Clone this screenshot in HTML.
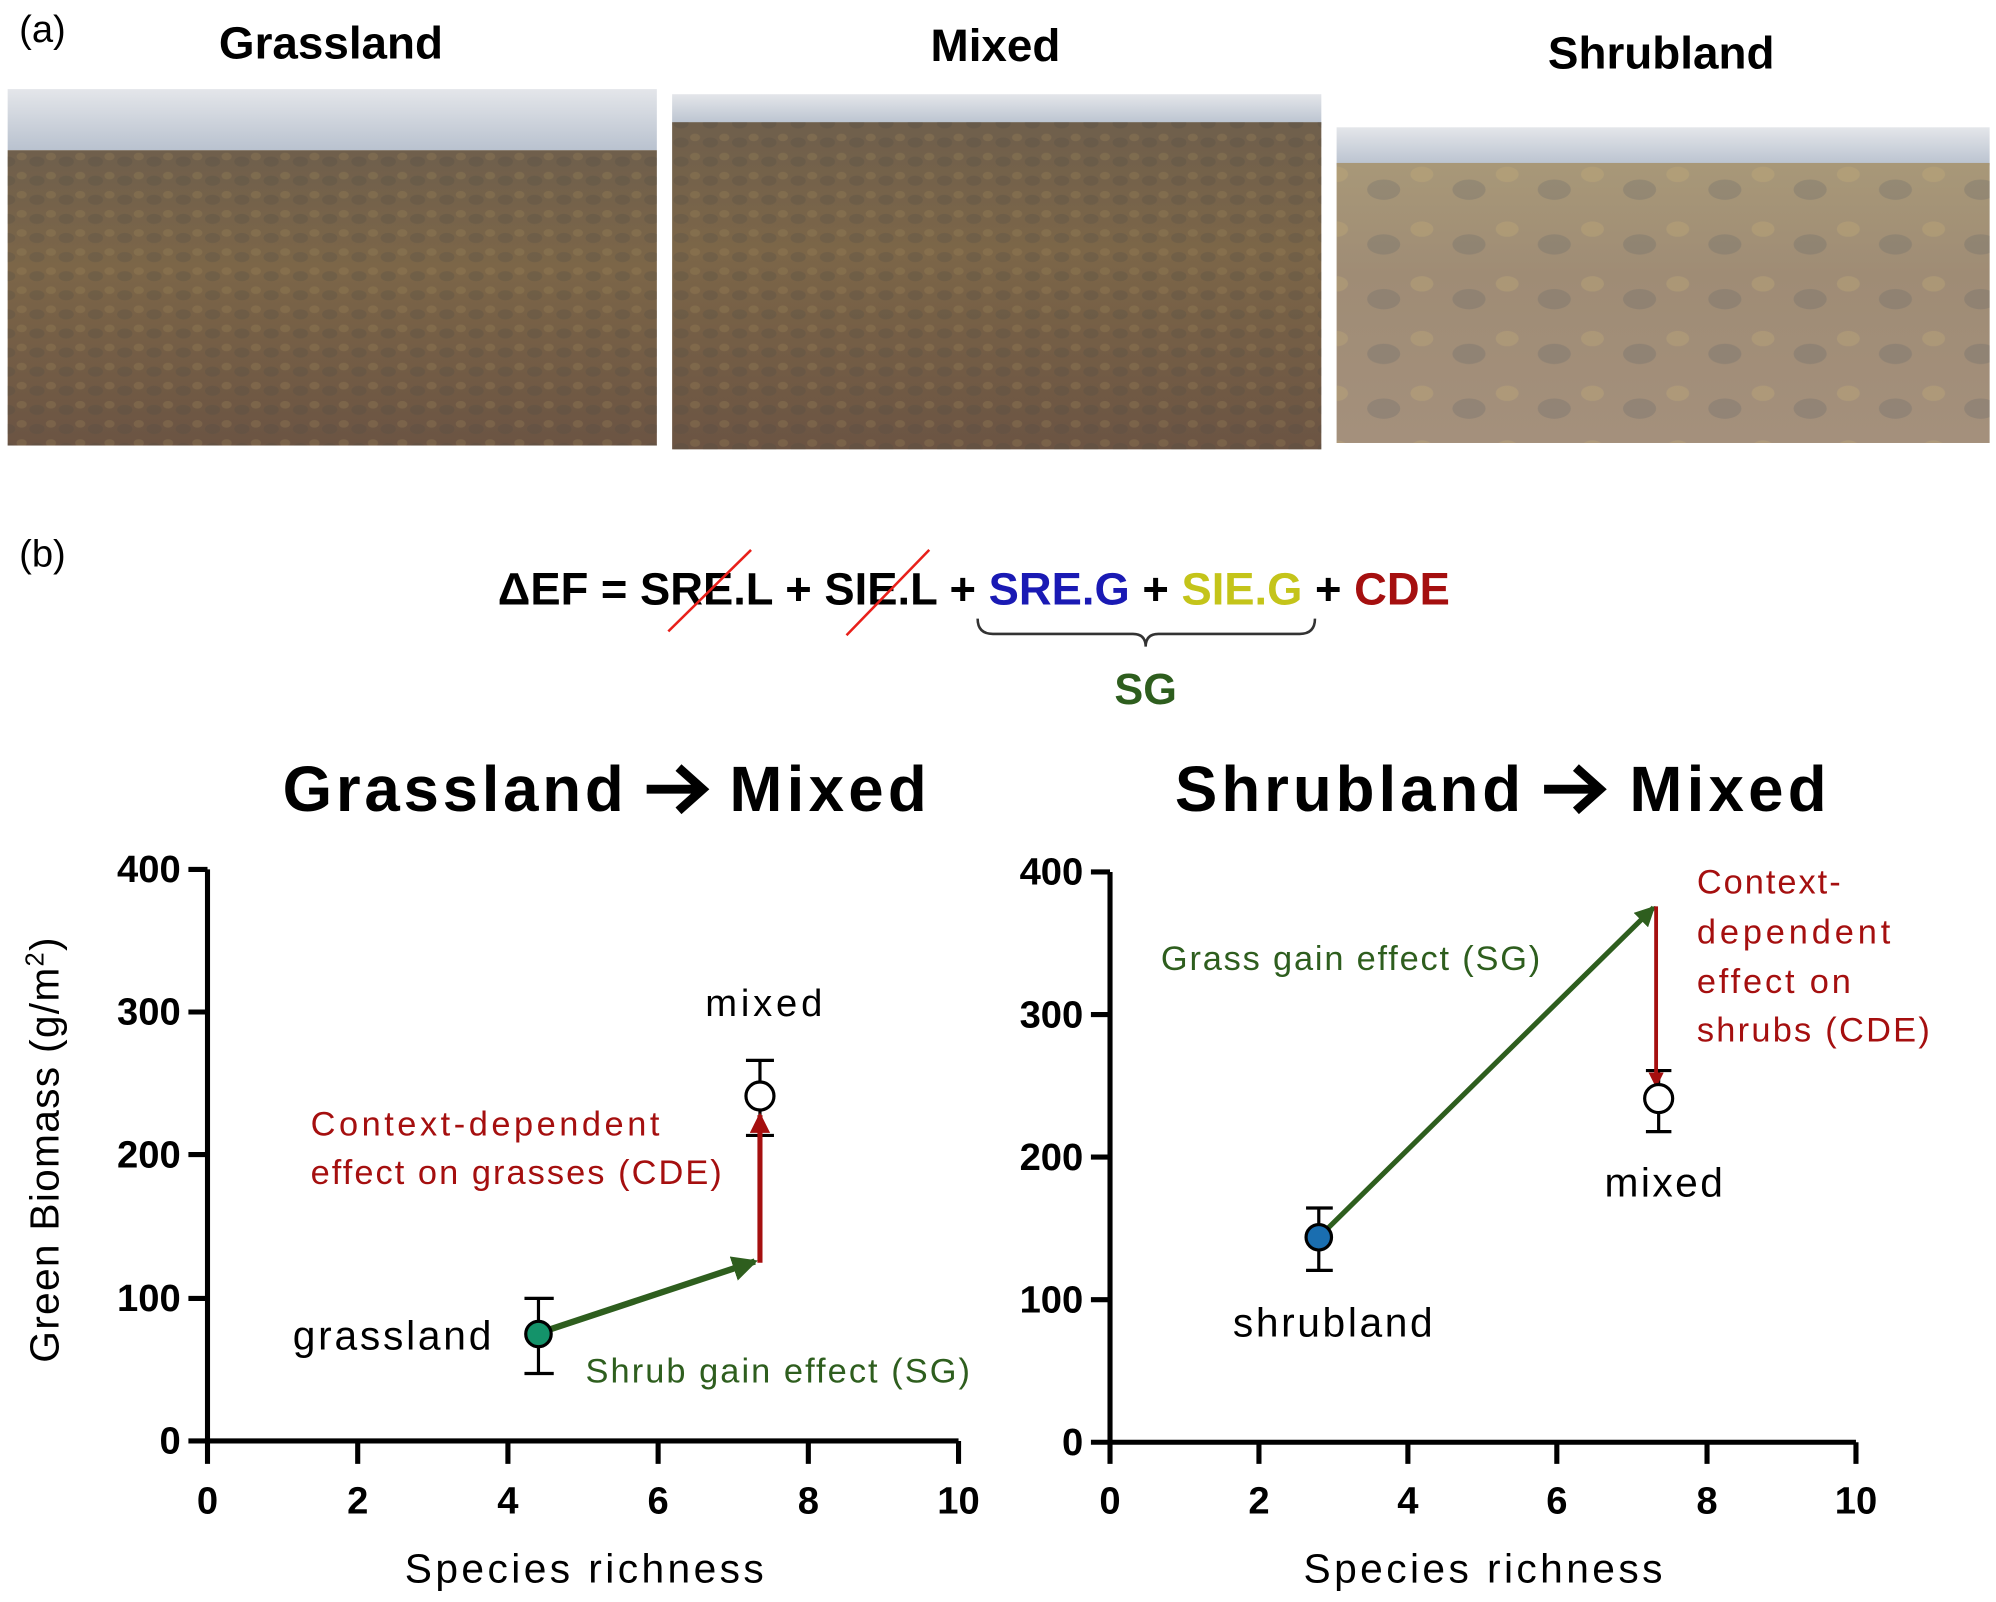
<!DOCTYPE html>
<html><head><meta charset="utf-8"><style>
html,body{margin:0;padding:0;background:#fff}
svg{display:block}
text{font-family:"Liberation Sans",sans-serif}
</style></head><body>
<svg width="1996" height="1602" viewBox="0 0 1568 1258.5" xmlns="http://www.w3.org/2000/svg">
<defs>
<linearGradient id="sky" x1="0" y1="0" x2="0" y2="1"><stop offset="0" stop-color="#e4e6ea"/><stop offset="1" stop-color="#b9c2cf"/></linearGradient>
<linearGradient id="g1" x1="0" y1="0" x2="0" y2="1"><stop offset="0" stop-color="#6f5f4c"/><stop offset="0.4" stop-color="#7c6648"/><stop offset="1" stop-color="#6b5443"/></linearGradient>
<linearGradient id="g3" x1="0" y1="0" x2="0" y2="1"><stop offset="0" stop-color="#a89878"/><stop offset="0.4" stop-color="#9f8c75"/><stop offset="1" stop-color="#a4907c"/></linearGradient>
<pattern id="tex" width="23" height="15" patternUnits="userSpaceOnUse"><ellipse cx="6" cy="7" rx="6" ry="4" fill="#4f4a44" opacity="0.25"/><ellipse cx="17" cy="3" rx="4" ry="3" fill="#a58a5a" opacity="0.25"/></pattern>
<pattern id="tex3" width="67" height="43" patternUnits="userSpaceOnUse"><ellipse cx="15" cy="20" rx="13" ry="8" fill="#6b6a6c" opacity="0.3"/><ellipse cx="45" cy="8" rx="9" ry="6" fill="#c8b078" opacity="0.3"/></pattern>
<marker id="ag" markerWidth="4" markerHeight="4" refX="3.5" refY="2" orient="auto" markerUnits="strokeWidth"><path d="M0,0 L4,2 L0,4 z" fill="#2e5e1e"/></marker>
<marker id="ar" markerWidth="4" markerHeight="4" refX="3.5" refY="2" orient="auto" markerUnits="strokeWidth"><path d="M0,0 L4,2 L0,4 z" fill="#a50f0f"/></marker>
</defs>

<text x="15" y="33" font-size="30">(a)</text>
<text x="260" y="46" font-size="36" font-weight="bold" text-anchor="middle">Grassland</text>
<text x="782" y="48" font-size="36" font-weight="bold" text-anchor="middle">Mixed</text>
<text x="1305" y="54" font-size="36" font-weight="bold" text-anchor="middle">Shrubland</text>

<rect x="6" y="70" width="510" height="48" fill="url(#sky)"/>
<rect x="6" y="118" width="510" height="232" fill="url(#g1)"/>
<rect x="6" y="118" width="510" height="232" fill="url(#tex)"/>
<rect x="528" y="74" width="510" height="24" fill="url(#sky)"/>
<rect x="528" y="96" width="510" height="257" fill="url(#g1)"/>
<rect x="528" y="96" width="510" height="257" fill="url(#tex)"/>
<rect x="1050" y="100" width="513" height="30" fill="url(#sky)"/>
<rect x="1050" y="128" width="513" height="220" fill="url(#g3)"/>
<rect x="1050" y="128" width="513" height="220" fill="url(#tex3)"/>

<text x="15" y="445" font-size="30">(b)</text>
<text x="765" y="475" font-size="36" font-weight="bold" text-anchor="middle" textLength="748" lengthAdjust="spacingAndGlyphs">ΔEF = SRE.L + SIE.L + <tspan fill="#1a1ab4">SRE.G</tspan> + <tspan fill="#c4c41a">SIE.G</tspan> + <tspan fill="#a50f0f">CDE</tspan></text>
<line x1="525" y1="496" x2="590" y2="432" stroke="#e8201a" stroke-width="2"/>
<line x1="665" y1="499" x2="730" y2="432" stroke="#e8201a" stroke-width="2"/>
<path d="M768,486 Q768,498 780,498 L890,498 Q900,498 900,508 Q900,498 910,498 L1021,498 Q1033,498 1033,486" fill="none" stroke="#333" stroke-width="2"/>
<text x="900" y="553" font-size="34" font-weight="bold" fill="#2e5e1e" text-anchor="middle">SG</text>

<text x="222" y="637" font-size="50" font-weight="bold" textLength="268">Grassland</text>
<text x="573" y="637" font-size="50" font-weight="bold" textLength="155">Mixed</text>
<text x="923" y="637" font-size="50" font-weight="bold" textLength="272">Shrubland</text>
<text x="1280" y="637" font-size="50" font-weight="bold" textLength="155">Mixed</text>
<g stroke="#000" stroke-width="7" fill="none">
<path d="M508,620H550 M533,603L552,620L533,637"/>
<path d="M1213,620H1255 M1238,603L1257,620L1238,637"/>
</g>

<!-- Left plot -->
<g stroke="#000" stroke-width="4" fill="none">
<path d="M163,683 V1132 H753"/>
<path d="M148,683H163 M148,795H163 M148,907H163 M148,1020H163 M148,1132H163"/>
<path d="M163,1132V1150 M281,1132V1150 M399,1132V1150 M517,1132V1150 M635,1132V1150 M753,1132V1150"/>
</g>
<g font-size="30" font-weight="bold" text-anchor="end">
<text x="142" y="693">400</text><text x="142" y="805">300</text><text x="142" y="917">200</text><text x="142" y="1030">100</text><text x="142" y="1142">0</text>
</g>
<g font-size="30" font-weight="bold" text-anchor="middle">
<text x="163" y="1189">0</text><text x="281" y="1189">2</text><text x="399" y="1189">4</text><text x="517" y="1189">6</text><text x="635" y="1189">8</text><text x="753" y="1189">10</text>
</g>
<text x="459" y="1243" font-size="32" text-anchor="middle" textLength="282">Species richness</text>
<text transform="translate(46,903) rotate(-90)" font-size="32" text-anchor="middle" letter-spacing="1">Green Biomass (g/m<tspan font-size="20" dy="-12">2</tspan><tspan dy="12">)</tspan></text>

<g stroke="#000" stroke-width="2.5"><path d="M423,1020V1079 M412,1020H435 M412,1079H435 M597,833V892 M586,833H608 M586,892H608"/></g>
<line x1="430" y1="1045" x2="593" y2="991" stroke="#2e5e1e" stroke-width="5" marker-end="url(#ag)"/>
<line x1="597" y1="992" x2="597" y2="876" stroke="#a50f0f" stroke-width="4" marker-end="url(#ar)"/>
<circle cx="423" cy="1048" r="10" fill="#14936a" stroke="#000" stroke-width="2.5"/>
<circle cx="597" cy="861" r="11" fill="#fff" stroke="#000" stroke-width="2.5"/>
<text x="600" y="798" font-size="30" text-anchor="middle" textLength="92">mixed</text>
<text x="244" y="892" font-size="27" fill="#a50f0f" textLength="274">Context-dependent</text>
<text x="244" y="930" font-size="27" fill="#a50f0f" textLength="323">effect on grasses (CDE)</text>
<text x="230" y="1060" font-size="32" textLength="156">grassland</text>
<text x="460" y="1086" font-size="27" fill="#2e5e1e" textLength="302">Shrub gain effect (SG)</text>

<!-- Right plot -->
<g stroke="#000" stroke-width="4" fill="none">
<path d="M872,685 V1133 H1458"/>
<path d="M857,685H872 M857,797H872 M857,909H872 M857,1021H872 M857,1133H872"/>
<path d="M872,1133V1150 M989,1133V1150 M1106,1133V1150 M1223,1133V1150 M1341,1133V1150 M1458,1133V1150"/>
</g>
<g font-size="30" font-weight="bold" text-anchor="end">
<text x="851" y="695">400</text><text x="851" y="807">300</text><text x="851" y="919">200</text><text x="851" y="1031">100</text><text x="851" y="1143">0</text>
</g>
<g font-size="30" font-weight="bold" text-anchor="middle">
<text x="872" y="1189">0</text><text x="989" y="1189">2</text><text x="1106" y="1189">4</text><text x="1223" y="1189">6</text><text x="1341" y="1189">8</text><text x="1458" y="1189">10</text>
</g>
<text x="1165" y="1243" font-size="32" text-anchor="middle" textLength="282">Species richness</text>

<g stroke="#000" stroke-width="2.5"><path d="M1036,949V998 M1026,949H1047 M1026,998H1047 M1303,841V889 M1293,841H1313 M1293,889H1313"/></g>
<line x1="1042" y1="966" x2="1299" y2="713" stroke="#2e5e1e" stroke-width="4" marker-end="url(#ag)"/>
<line x1="1301" y1="712" x2="1301" y2="853" stroke="#a50f0f" stroke-width="3" marker-end="url(#ar)"/>
<circle cx="1036" cy="972" r="10" fill="#1a6eb0" stroke="#000" stroke-width="2.5"/>
<circle cx="1303" cy="863" r="11" fill="#fff" stroke="#000" stroke-width="2.5"/>
<text x="912" y="762" font-size="27" fill="#2e5e1e" textLength="298">Grass gain effect (SG)</text>
<g font-size="27" fill="#a50f0f">
<text x="1333" y="702" textLength="113">Context-</text><text x="1333" y="741" textLength="152">dependent</text><text x="1333" y="780" textLength="121">effect on</text><text x="1333" y="818" textLength="183">shrubs (CDE)</text>
</g>
<text x="1307" y="940" font-size="32" text-anchor="middle" textLength="93">mixed</text>
<text x="1047" y="1050" font-size="32" text-anchor="middle" textLength="157">shrubland</text>
</svg>
</body></html>
